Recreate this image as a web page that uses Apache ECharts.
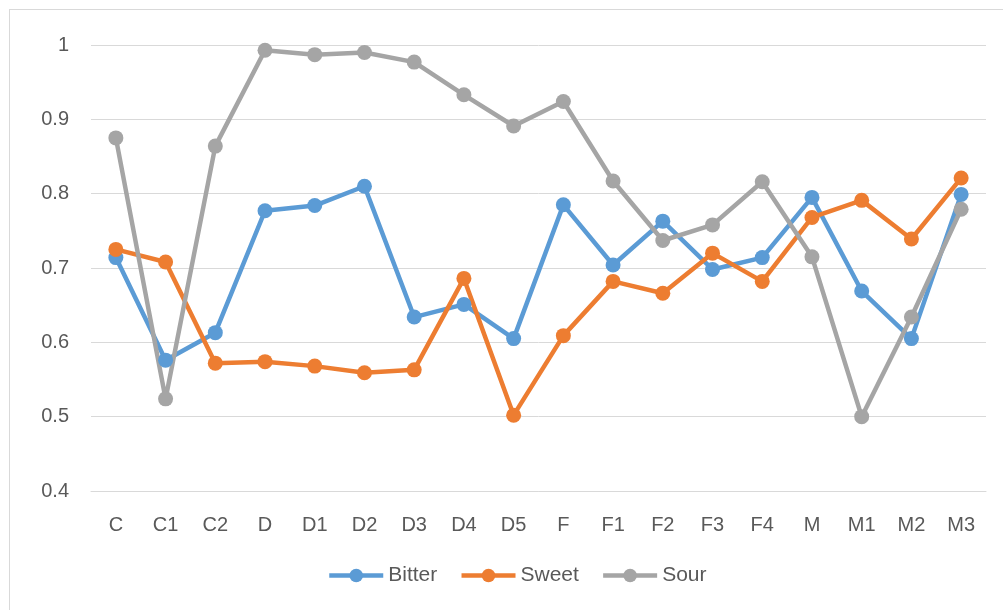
<!DOCTYPE html>
<html>
<head>
<meta charset="utf-8">
<script src="https://cdn.jsdelivr.net/npm/echarts@6/dist/echarts.min.js"></script>
<style>
body { margin: 0; background: #fff; }
#main { width: 1003px; height: 610px; position: relative; }
#frame { position: absolute; left: 9px; top: 9px; width: 1100px; height: 700px; border: 1px solid #d9d9d9; pointer-events: none; }
</style>
</head>
<body>
<div id="main"></div>
<div id="frame"></div>
<script>
var categories = ['C', 'C1', 'C2', 'D', 'D1', 'D2', 'D3', 'D4', 'D5', 'F', 'F1', 'F2', 'F3', 'F4', 'M', 'M1', 'M2', 'M3'];
var bitter = [0.714, 0.576, 0.613, 0.777, 0.784, 0.810, 0.634, 0.651, 0.605, 0.785, 0.704, 0.763, 0.698, 0.714, 0.795, 0.669, 0.605, 0.799];
var sweet = [0.725, 0.708, 0.572, 0.574, 0.568, 0.559, 0.563, 0.686, 0.502, 0.609, 0.682, 0.666, 0.720, 0.682, 0.768, 0.791, 0.739, 0.821];
var sour = [0.875, 0.524, 0.864, 0.993, 0.987, 0.990, 0.977, 0.933, 0.891, 0.924, 0.817, 0.737, 0.758, 0.816, 0.715, 0.500, 0.634, 0.779];

var dom = document.getElementById('main');
var myChart = echarts.init(dom);
var font = 'Liberation Sans, Arial, sans-serif';

function makeSeries(name, data, color) {
    return {
        name: name,
        type: 'line',
        data: data,
        symbol: 'circle',
        symbolSize: 15,
        lineStyle: { width: 4.5, color: color },
        itemStyle: { color: color },
        emphasis: { disabled: true },
        animation: false
    };
}

var option = {
    animation: false,
    color: ['#5B9BD5', '#ED7D31', '#A5A5A5'],
    textStyle: { fontFamily: font },
    grid: { left: 91, right: 17, top: 45, bottom: 119 },
    legend: {
        bottom: 19,
        left: 322,
        itemWidth: 54,
        itemHeight: 17,
        itemGap: 22,
        lineStyle: { width: 4.5 },
        textStyle: { fontSize: 21, color: '#595959', fontFamily: font },
        data: ['Bitter', 'Sweet', 'Sour']
    },
    xAxis: {
        type: 'category',
        data: categories,
        axisTick: { show: false },
        axisLine: { lineStyle: { color: '#d9d9d9', width: 1 } },
        axisLabel: { color: '#595959', fontSize: 20, margin: 24, fontFamily: font, interval: 0 }
    },
    yAxis: {
        type: 'value',
        min: 0.4,
        max: 1,
        interval: 0.1,
        axisLine: { show: false },
        axisTick: { show: false },
        splitLine: { lineStyle: { color: '#d9d9d9', width: 1 } },
        axisLabel: {
            color: '#595959', fontSize: 20, margin: 22, fontFamily: font,
            formatter: function (v) { return String(Math.round(v * 10) / 10); }
        }
    },
    series: [
        makeSeries('Bitter', bitter, '#5B9BD5'),
        makeSeries('Sweet', sweet, '#ED7D31'),
        makeSeries('Sour', sour, '#A5A5A5')
    ]
};
myChart.setOption(option);
</script>
</body>
</html>
